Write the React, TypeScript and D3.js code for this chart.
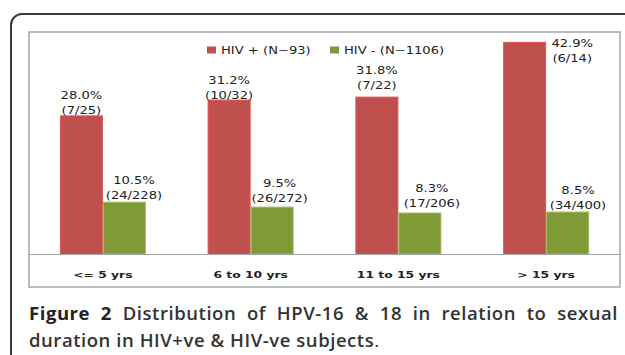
import React, { useEffect, useRef } from "react";
import * as d3 from "d3";

const categories = ["<= 5 yrs", "6 to 10 yrs", "11 to 15 yrs", "> 15 yrs"];
const seriesNames = ["HIV + (N\u221293)", "HIV - (N\u22121106)"];
const hivPos = [28.0, 31.2, 31.8, 42.9];
const hivNeg = [10.5, 9.5, 8.3, 8.5];
const hivPosCounts = ["(7/25)", "(10/32)", "(7/22)", "(6/14)"];
const hivNegCounts = ["(24/228)", "(26/272)", "(17/206)", "(34/400)"];
const yMax = 45;

// label nudges (presentation only)
const posNudge = [[0, -2], [0, -0.6], [0, -8.3], [47.6, 20]];
const negNudge = [[9.6, -3.4], [7.5, -5], [12, -6], [10.4, -3.3]];

const colors = ["#C0504D", "#7F9A36"];
const strokes = ["#E4534F", "#9CBB5A"];

export default function App() {
  const ref = useRef<SVGSVGElement>(null);
  useEffect(() => {
    const svg = d3.select(ref.current);
    svg.selectAll("*").remove();
    const left = 29, right = 620, top = 32, base = 254, bottom = 287;

    // outer rounded frame
    svg.append("rect").attr("x", 11).attr("y", 14).attr("width", 700).attr("height", 400)
      .attr("rx", 11).attr("fill", "#fff").attr("stroke", "#3a3a3a").attr("stroke-width", 2);

    // inner chart box
    svg.append("rect").attr("x", left).attr("y", top).attr("width", right - left).attr("height", bottom - top)
      .attr("fill", "#fff").attr("stroke", "#A6A6A6").attr("stroke-width", 1.5);

    const x0 = d3.scaleBand<string>().domain(categories).range([left, right]).paddingInner(0.418).paddingOuter(0.209);
    const x1 = d3.scaleBand<number>().domain([0, 1]).range([0, x0.bandwidth()]);
    const y = d3.scaleLinear().domain([0, yMax]).range([base, top]);

    const series = [hivPos, hivNeg];
    series.forEach((vals, si) => {
      svg.append("g").selectAll("rect").data(vals).join("rect")
        .attr("x", (_d, i) => (x0(categories[i]) as number) + (x1(si) as number) + 0.5)
        .attr("y", (d) => y(d))
        .attr("width", x1.bandwidth() - 1)
        .attr("height", (d) => base - y(d))
        .attr("fill", colors[si])
        .attr("stroke", strokes[si])
        .attr("stroke-width", 1);
    });

    // axis baseline
    svg.append("line").attr("x1", left).attr("x2", right).attr("y1", base + 0.5).attr("y2", base + 0.5)
      .attr("stroke", "#A6A6A6").attr("stroke-width", 1);

    const stretch = 1.25;
    const txt = (g: any, tx: number, ty: number, s: string, size: number, weight: string, anchor = "middle", sx = stretch) =>
      g.append("text")
        .attr("transform", `translate(${tx},${ty}) scale(${sx},1)`)
        .attr("text-anchor", anchor)
        .attr("font-family", "DejaVu Sans")
        .attr("font-size", size)
        .attr("font-weight", weight)
        .attr("fill", "#222")
        .text(s);

    const lg = svg.append("g");
    // value labels
    hivPos.forEach((v, i) => {
      const cx = (x0(categories[i]) as number) + (x1(0) as number) + x1.bandwidth() / 2 + posNudge[i][0];
      const by = y(v) + posNudge[i][1];
      txt(lg, cx, by - 15, v.toFixed(1) + "%", 10.5, "normal");
      txt(lg, cx, by, hivPosCounts[i], 10.5, "normal");
    });
    hivNeg.forEach((v, i) => {
      const cx = (x0(categories[i]) as number) + (x1(1) as number) + x1.bandwidth() / 2 + negNudge[i][0];
      const by = y(v) + negNudge[i][1];
      txt(lg, cx, by - 15, v.toFixed(1) + "%", 10.5, "normal");
      txt(lg, cx, by, hivNegCounts[i], 10.5, "normal");
    });

    // category labels
    categories.forEach((c) => {
      const cx = (x0(c) as number) + x0.bandwidth() / 2;
      txt(lg, cx, 277.5, c, 9.5, "bold", "middle", 1.3);
    });

    // legend
    const legX = [207, 330];
    seriesNames.forEach((n, i) => {
      svg.append("rect").attr("x", legX[i]).attr("y", 46.5).attr("width", 9).attr("height", 7)
        .attr("fill", colors[i]);
      txt(lg, legX[i] + 14, 54, n, 10.5, "normal", "start");
    });

    // caption
    const cap = svg.append("g").attr("font-family", "'Open Sans'").attr("font-size", 18.5)
      .attr("letter-spacing", 0.55);
    const line1 = ["Figure", "2", "Distribution", "of", "HPV-16", "&", "18", "in", "relation", "to", "sexual"];
    const widths: number[] = [];
    const nodes: any[] = [];
    line1.forEach((w, i) => {
      const t = cap.append("text").attr("y", 320)
        .attr("font-weight", i < 2 ? 700 : 600)
        .attr("fill", i < 2 ? "#222" : "#333")
        .text(w);
      nodes.push(t);
      widths.push((t.node() as SVGTextElement).getComputedTextLength());
    });
    const total = d3.sum(widths);
    const gap = (618 - 29 - total) / (line1.length - 1);
    let cx = 29;
    nodes.forEach((t, i) => { t.attr("x", cx); cx += widths[i] + gap; });
    cap.append("text").attr("x", 29).attr("y", 346.5).attr("font-weight", 600).attr("fill", "#333")
      .text("duration in HIV+ve & HIV-ve subjects")
      .append("tspan").attr("font-weight", 400).text(".");
  }, []);
  return (
    <svg ref={ref} width={625} height={355} style={{ position: "absolute", left: 0, top: 0, display: "block", background: "#fff" }} />
  );
}
